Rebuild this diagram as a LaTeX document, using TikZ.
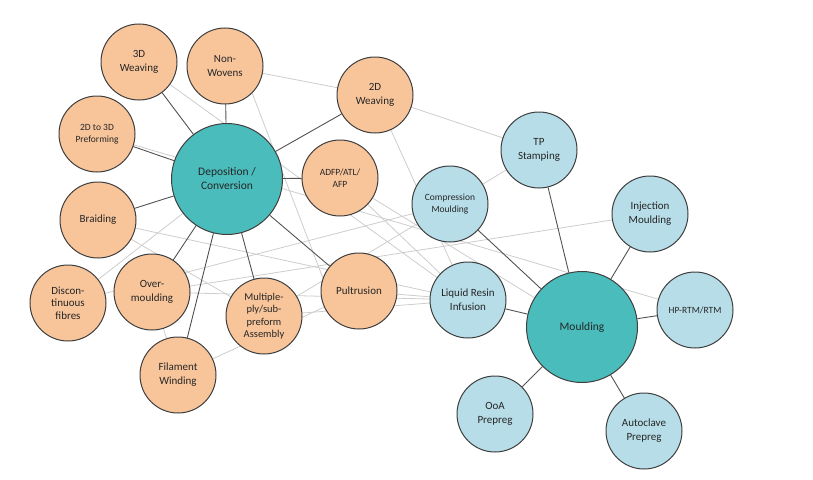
\documentclass[tikz,border=0pt]{standalone}
\usepackage{fontspec}
\setmainfont{Carlito}
\usetikzlibrary{backgrounds}
\definecolor{peach}{HTML}{F8C59B}
\definecolor{tealc}{HTML}{4ABCBB}
\definecolor{lblue}{HTML}{B7DDE8}
\definecolor{rim}{HTML}{3F3F3F}
\definecolor{faint}{HTML}{CDCDCD}
\tikzset{
  small/.style={circle, draw=rim, line width=1pt, minimum size=76pt, inner sep=0pt, align=center, font=\fontsize{11}{14}\selectfont, text=black!85},
  ornode/.style={small, fill=peach},
  blnode/.style={small, fill=lblue},
  tiny/.style={font=\fontsize{9.5}{12}\selectfont},
  hub/.style={circle, draw=rim, line width=1pt, minimum size=111pt, inner sep=0pt, align=center, fill=tealc, font=\fontsize{11.5}{14}\selectfont, text=black!85},
  strong/.style={draw=rim!90, line width=0.9pt},
  weak/.style={draw=faint, line width=0.8pt}
}
\begin{document}
\begin{tikzpicture}[x=1pt,y=-1pt]
\useasboundingbox (0,0) rectangle (813,479);
% left cluster
\node[hub] (dep) at (227,179) {Deposition /\\Conversion};
\node[ornode] (w3d) at (139,62) {3D\\Weaving};
\node[ornode] (nw) at (225,66) {Non-\\Wovens};
\node[ornode] (w2d) at (375,95) {2D\\Weaving};
\node[ornode, tiny] (pre) at (97,134) {2D to 3D\\Preforming};
\node[ornode, tiny] (adfp) at (340,178) {ADFP/ATL/\\AFP};
\node[ornode] (brd) at (98,220) {Braiding};
\node[ornode, font=\fontsize{11}{12.5}\selectfont] (dis) at (68,303) {Discon-\\tinuous\\fibres};
\node[ornode] (ovm) at (152,292) {Over-\\moulding};
\node[ornode] (fil) at (178,375) {Filament\\Winding};
\node[ornode, font=\fontsize{10.5}{12.5}\selectfont] (mpl) at (264,316) {Multiple-\\ply/sub-\\preform\\Assembly};
\node[ornode] (pul) at (359,291) {Pultrusion};
% right cluster
\node[hub] (mou) at (582,327) {Moulding};
\node[blnode] (tps) at (539,150) {TP\\Stamping};
\node[blnode, tiny] (cmp) at (450,204) {Compression\\Moulding};
\node[blnode] (inj) at (650,214) {Injection\\Moulding};
\node[blnode] (lri) at (468,300) {Liquid Resin\\Infusion};
\node[blnode, tiny] (hp) at (695,310) {HP-RTM/RTM};
\node[blnode] (ooa) at (495,414) {OoA\\Prepreg};
\node[blnode] (aut) at (644,431) {Autoclave\\Prepreg};
\begin{pgfonlayer}{background}
% faint cross links
\draw[weak] (nw) -- (w2d);
\draw[weak] (w2d.center) -- (tps.center);
\draw[weak] (w3d.center) -- (lri.center);
\draw[weak] (nw.-45) -- (pul.160);
\draw[weak] (w2d.center) -- (lri.center);
\draw[weak] (cmp) -- (tps);
\draw[weak] (pre.center) -- (hp.center);
\draw[weak] (ovm.center) -- (inj.center);
\draw[weak] (pul) -- (lri);
\draw[weak] (dis.center) -- (cmp.center);
\draw[weak] (dis) -- (dep);
\draw[weak] (brd.center) -- (lri.center);
\draw[weak] (brd.center) -- (mpl.center);
\draw[weak] (fil.center) -- (pul.center);
\draw[weak] (mpl.center) -- (cmp.center);
\draw[weak] (adfp.center) -- (lri.center);
\draw[weak] (ovm.center) -- (fil.center);
\draw[weak] (ovm.center) -- (lri.center);
\draw[weak] (mpl.center) -- (lri.center);
\draw[weak] (adfp.center) -- (mou.center);
% main links
\foreach \n in {w3d,nw,w2d,pre,adfp,brd,ovm,fil,mpl,pul}
  \draw[strong] (dep) -- (\n);
\foreach \n in {tps,cmp,inj,lri,hp,ooa,aut}
  \draw[strong] (mou) -- (\n);
\end{pgfonlayer}
\end{tikzpicture}
\end{document}
